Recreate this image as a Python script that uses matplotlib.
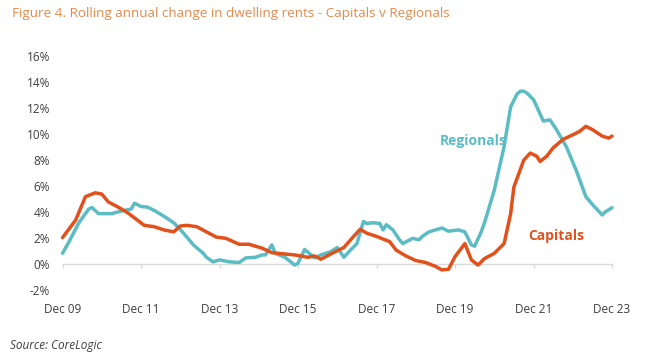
import matplotlib
matplotlib.use("Agg")
import matplotlib.pyplot as plt

# Months since Dec 2009, and rolling annual change (%)
cap_month = [0, 4, 7, 10, 12, 14, 17, 20, 25, 28, 31, 34, 36, 38, 41, 44, 47, 50, 54, 57,
             61, 64, 68, 71, 75, 77, 79, 82, 86, 89, 91, 93, 96, 100, 102, 105, 108, 111,
             114, 116, 118, 120, 123, 125, 127, 129, 132, 135, 137, 138, 141, 143, 145,
             146, 148, 150, 153, 156, 158, 160, 162, 165, 167, 168]
cap_value = [2.06, 3.4, 5.2, 5.5, 5.4, 4.8, 4.4, 3.95, 3.0, 2.9, 2.65, 2.5, 2.95, 3.0, 2.9,
             2.5, 2.1, 2.0, 1.55, 1.55, 1.25, 0.9, 0.8, 0.73, 0.55, 0.65, 0.4, 0.8, 1.3,
             2.15, 2.7, 2.4, 2.15, 1.75, 1.1, 0.65, 0.3, 0.15, -0.15, -0.42, -0.37, 0.6,
             1.6, 0.35, -0.05, 0.45, 0.85, 1.6, 3.9, 5.95, 8.0, 8.55, 8.3, 7.9, 8.3, 8.95,
             9.6, 9.95, 10.2, 10.6, 10.35, 9.85, 9.7, 9.85]

reg_month = [0, 2, 5, 8, 9, 11, 13, 15, 18, 21, 22, 24, 26, 28, 31, 34, 37, 40, 43, 44,
             46, 48, 51, 54, 56, 59, 61, 62, 64, 65, 68, 71, 72, 74, 76, 77, 79, 82, 84,
             86, 88, 90, 92, 93, 95, 97, 98, 99, 101, 103, 104, 107, 109, 110, 112, 116,
             118, 121, 123, 125, 126, 128, 129, 132, 135, 137, 139, 140, 141, 142, 144, 147, 149,
             151, 154, 157, 160, 162, 165, 166, 168]
reg_value = [0.86, 1.75, 3.2, 4.25, 4.37, 3.9, 3.9, 3.9, 4.1, 4.25, 4.7, 4.45, 4.4, 4.15,
             3.7, 3.2, 2.4, 1.5, 0.86, 0.55, 0.2, 0.35, 0.2, 0.15, 0.5, 0.55, 0.73, 0.73,
             1.5, 0.86, 0.55, -0.05, 0.1, 1.15, 0.73, 0.5, 0.73, 0.98, 1.3, 0.55, 1.1,
             1.6, 3.3, 3.15, 3.2, 3.15, 2.65, 3.05, 2.65, 1.9, 1.6, 2.0, 1.9, 2.15, 2.5,
             2.8, 2.55, 2.65, 2.5, 1.5, 1.4, 2.5, 3.2, 5.7, 9.05, 12.1, 13.1, 13.3, 13.3, 13.15,
             12.65, 11.0, 11.1, 10.35, 9.05, 7.25, 5.2, 4.6, 3.8, 4.05, 4.35]

tick_months = [0, 24, 48, 72, 96, 120, 144, 168]
tick_labels = ["Dec 09", "Dec 11", "Dec 13", "Dec 15", "Dec 17", "Dec 19", "Dec 21", "Dec 23"]
y_ticks = [-2, 0, 2, 4, 6, 8, 10, 12, 14, 16]

title = "Figure 4. Rolling annual change in dwelling rents - Capitals v Regionals"
source = "Source: CoreLogic"

CAP = "#E2501C"
REG = "#5BBCC4"
TXT = "#3F3F3F"

plt.rcParams['font.family'] = ['Open Sans', 'DejaVu Sans']

fig = plt.figure(figsize=(6.5, 3.56), dpi=100)
ax = fig.add_axes([0.0962, 0.184, 0.8454, 0.6587])

ax.plot(reg_month, reg_value, color=REG, lw=2.5, solid_joinstyle='round',
        solid_capstyle='round', clip_on=False, zorder=3)
ax.plot(cap_month, cap_value, color=CAP, lw=2.5, solid_joinstyle='round',
        solid_capstyle='round', clip_on=False, zorder=4)

ax.set_xlim(0, 168)
ax.set_ylim(-2, 16)

for s in ['top', 'right', 'left']:
    ax.spines[s].set_visible(False)
ax.spines['bottom'].set_position(('data', 0))
ax.spines['bottom'].set_color('#D9D9D9')
ax.spines['bottom'].set_linewidth(1.0)

ax.set_xticks(tick_months)
ax.set_xticklabels(tick_labels)
ax.tick_params(axis='x', direction='out', length=3, width=1.0, color='#D9D9D9',
               pad=25, labelsize=8.5, labelcolor=TXT)
ax.set_yticks(y_ticks)
ax.set_yticklabels([f"{v}%" for v in y_ticks])
ax.tick_params(axis='y', length=0, pad=9, labelsize=8.5, labelcolor=TXT)

ax.text(115.4, 9.5, "Regionals", color=REG, fontsize=10, fontweight='bold',
        ha='left', va='center')
ax.text(142.3, 2.2, "Capitals", color=CAP, fontsize=10, fontweight='bold',
        ha='left', va='center')

fig.text(12 / 650, 1 - 13 / 356, title, color="#E48A4E", fontsize=9.7,
         ha='left', va='center')
fig.text(10 / 650, 1 - 345 / 356, source, color=TXT, fontsize=8.5, style='italic',
         ha='left', va='center')

fig.savefig("out.png", dpi=100)
